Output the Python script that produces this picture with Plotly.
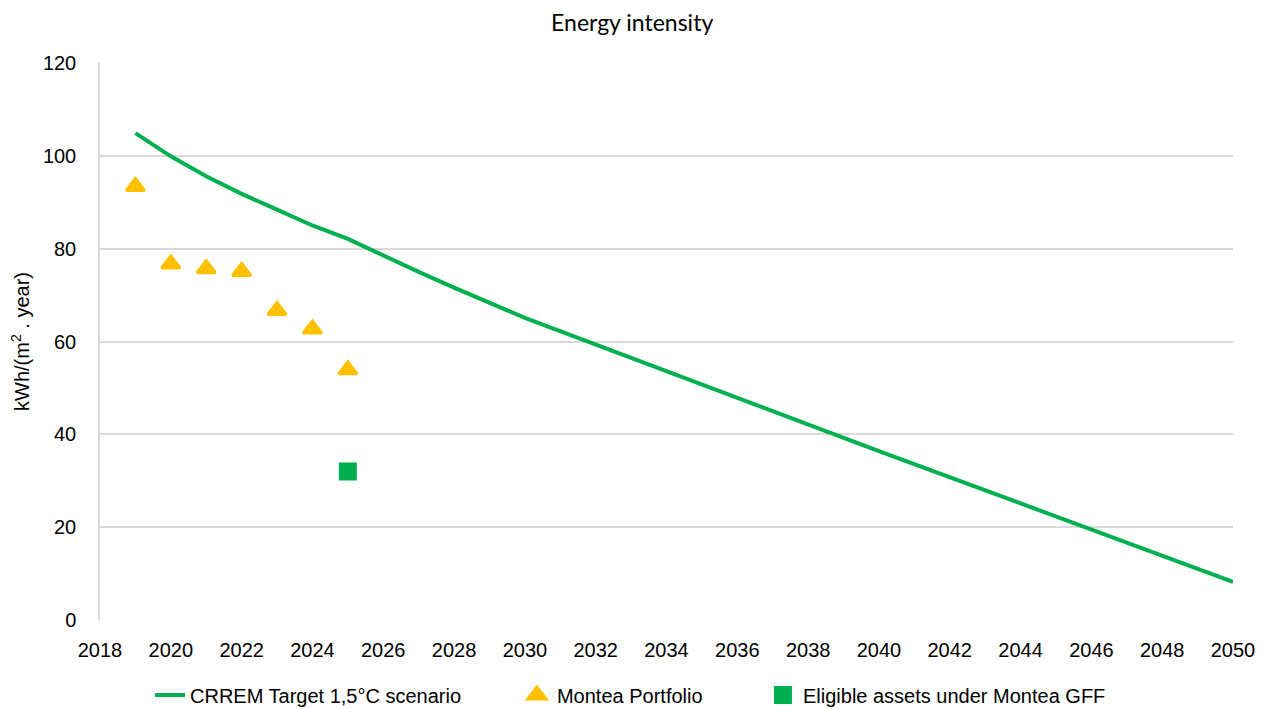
import plotly.graph_objects as go

# Data
crrem_years = [2019, 2020, 2021, 2022, 2023, 2024, 2025, 2026, 2027, 2028, 2029, 2030, 2040, 2050]
crrem_values = [104.9, 99.9, 95.6, 91.8, 88.4, 85.0, 82.1, 78.5, 75.0, 71.6, 68.3, 65.1, 36.4, 8.2]

portfolio_years = [2019, 2020, 2021, 2022, 2023, 2024, 2025]
portfolio_values = [93.4, 76.7, 75.7, 75.1, 66.7, 62.7, 53.9]

gff_years = [2025]
gff_values = [32.0]

x_ticks = list(range(2018, 2051, 2))
y_ticks = [0, 20, 40, 60, 80, 100, 120]

GREEN = "#00B050"
YELLOW = "#FFC000"
SANS = "Liberation Sans, Arial, sans-serif"

fig = go.Figure()
fig.add_trace(go.Scatter(
    x=crrem_years, y=crrem_values, mode="lines",
    name="CRREM Target 1,5°C scenario", legend="legend",
    line=dict(color=GREEN, width=4),
))
fig.add_trace(go.Scatter(
    x=portfolio_years, y=portfolio_values, mode="markers",
    name="Montea Portfolio", legend="legend2",
    marker=dict(symbol="triangle-up", size=16, color=YELLOW,
                line=dict(color=YELLOW, width=3)),
))
fig.add_trace(go.Scatter(
    x=gff_years, y=gff_values, mode="markers",
    name="Eligible assets under Montea GFF", legend="legend3",
    marker=dict(symbol="square", size=16, color=GREEN,
                line=dict(color=GREEN, width=2)),
))

leg_common = dict(orientation="h", xref="container", yref="container",
                  y=0.02, yanchor="middle", xanchor="left",
                  font=dict(family=SANS, size=20, color="#000000"),
                  bgcolor="rgba(0,0,0,0)")

fig.update_layout(
    width=1261, height=701,
    paper_bgcolor="white", plot_bgcolor="white",
    margin=dict(l=92, r=36, t=55, b=89),
    title=dict(text="Energy intensity", x=0.495, xanchor="center",
               yref="container", y=0.978, yanchor="middle",
               font=dict(family="Lato, sans-serif", size=23, color="#000000")),
    font=dict(family=SANS, size=20, color="#000000"),
    showlegend=True,
    legend=dict(x=0.1126, **leg_common),
    legend2=dict(x=0.4036, **leg_common),
    legend3=dict(x=0.5987, **leg_common),
)
fig.update_xaxes(
    range=[2018, 2050], tickmode="array", tickvals=x_ticks,
    ticktext=[str(t) for t in x_ticks],
    showgrid=False, zeroline=False, showline=False,
    ticks="", ticklabelstandoff=16, tickfont=dict(size=20),
)
fig.update_yaxes(
    range=[0, 120], tickmode="array", tickvals=y_ticks,
    showgrid=True, gridcolor="#d9d9d9", gridwidth=1.5,
    zeroline=False, showline=True, linecolor="#d9d9d9", linewidth=1.5,
    ticks="", ticklabelstandoff=18, tickfont=dict(size=20),
    title=dict(text="kWh/(m<sup>2</sup> . year)", font=dict(size=20), standoff=8),
)

fig.write_html("out.html")
